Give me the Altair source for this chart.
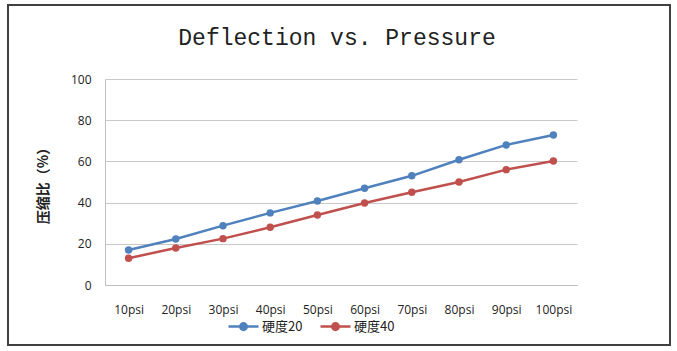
import altair as alt
import pandas as pd

categories = ["10psi", "20psi", "30psi", "40psi", "50psi", "60psi", "70psi", "80psi", "90psi", "100psi"]
series_names = ["硬度20", "硬度40"]
hardness20 = [17, 22.3, 28.8, 35, 40.8, 47, 53, 60.8, 68, 72.8]
hardness40 = [13, 18, 22.5, 28, 34, 39.8, 45, 50, 56, 60.2]
colors = ["#4F81BD", "#C0504D"]

rows = []
for c, v in zip(categories, hardness20):
    rows.append({"pressure": c, "value": v, "series": series_names[0]})
for c, v in zip(categories, hardness40):
    rows.append({"pressure": c, "value": v, "series": series_names[1]})
df = pd.DataFrame(rows)

W, H = 472, 206

lines = alt.Chart(df).mark_line(
    point=alt.OverlayMarkDef(filled=True, size=55), strokeWidth=2.5
).encode(
    x=alt.X("pressure:N", sort=categories, title=None,
            scale=alt.Scale(paddingInner=0, paddingOuter=0.5),
            axis=alt.Axis(labelAngle=0, ticks=False, domain=True, domainColor="#bfbfbf",
                          labelPadding=19, labelFont="Open Sans", labelFontSize=12,
                          labelColor="#222", grid=False)),
    y=alt.Y("value:Q", title="压缩比（%）",
            scale=alt.Scale(domain=[0, 100], nice=False),
            axis=alt.Axis(values=[0, 20, 40, 60, 80, 100], ticks=False, domain=True,
                          domainColor="#bfbfbf", gridColor="#c8c8c8", gridWidth=1.2,
                          labelPadding=14, labelFont="Open Sans", labelFontSize=12,
                          labelColor="#222", titleFont="Noto Sans CJK SC",
                          titleFontSize=14, titleFontWeight="bold", titleColor="#222",
                          titlePadding=20)),
    color=alt.Color("series:N", sort=series_names,
                    scale=alt.Scale(domain=series_names, range=colors),
                    legend=alt.Legend(title=None, orient="none", direction="horizontal",
                                      legendX=122, legendY=231,
                                      symbolType="M-1,0L1,0M0.22,0A0.22,0.22 0 1 1 -0.22,0A0.22,0.22 0 1 1 0.22,0Z",
                                      symbolSize=900, symbolStrokeWidth=2.5,
                                      labelFont="Noto Sans CJK SC", labelFontSize=13,
                                      labelColor="#222", columnPadding=12, labelOffset=2)),
)

border = alt.Chart(alt.Data(values=[{}])).mark_rect(
    fill=None, stroke="#404040", strokeWidth=2
).encode(
    x=alt.value(-97), x2=alt.value(565), y=alt.value(-74), y2=alt.value(266)
)

chart = alt.layer(lines, border).properties(
    width=W, height=H,
    title=alt.TitleParams("Deflection vs. Pressure", font="Liberation Mono", fontSize=23,
                          fontWeight="normal", color="#222", anchor="middle", offset=-46, dx=-4),
    autosize=alt.AutoSizeParams(type="none"),
    padding={"left": 105, "top": 79, "right": 100, "bottom": 66},
    background="white",
).configure_view(stroke=None)

chart.save("out.html", embed_options={"renderer": "svg", "actions": False})
